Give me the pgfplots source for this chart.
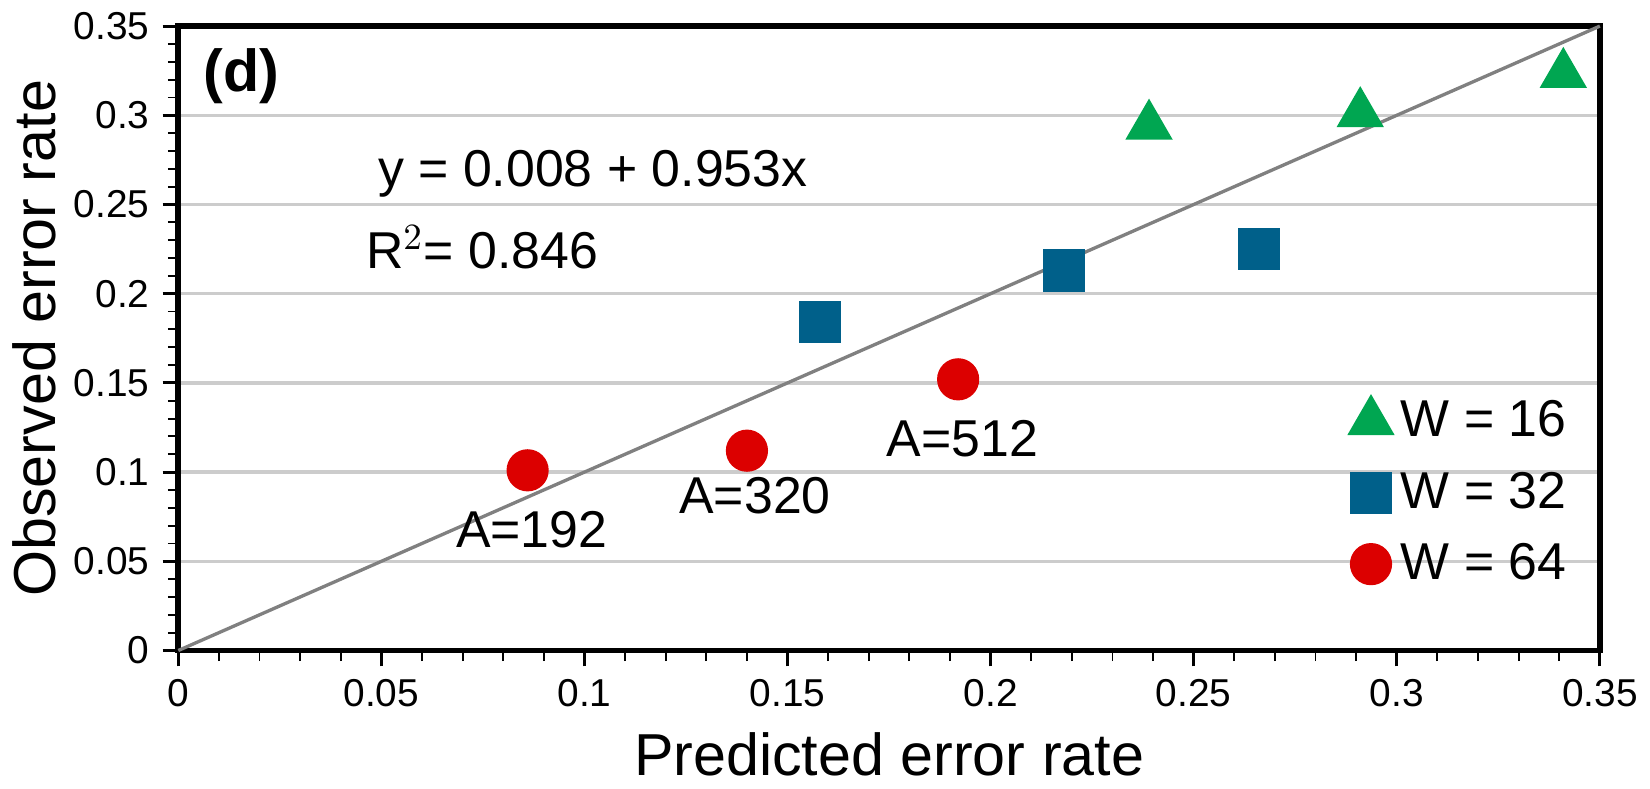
\documentclass[border=0pt]{standalone}
\usepackage{pgfplots}
\pgfplotsset{compat=1.18}
\usepackage{fontspec}
\setmainfont{Liberation Sans}
\definecolor{tg}{RGB}{0,166,81}
\definecolor{sb}{RGB}{0,96,138}
\definecolor{cr}{RGB}{220,0,0}
\begin{document}
\begin{tikzpicture}
\begin{axis}[
 scale only axis, width=13.5cm, height=5.93cm,
 xmin=0, xmax=0.35, ymin=0, ymax=0.35,
 xtick={0,0.05,...,0.35}, ytick={0,0.05,...,0.35},
 xticklabels={0,0.05,0.1,0.15,0.2,0.25,0.3,0.35},
 yticklabels={0,0.05,0.1,0.15,0.2,0.25,0.3,0.35},
 minor x tick num=4, minor y tick num=4,
 tick align=outside, tick pos=left,
 axis line style={line width=1.6pt},
 major tick style={black, line width=0.8pt},
 minor tick style={black, line width=0.5pt},
 ymajorgrids, grid style={gray!40, line width=0.9pt},
 ticklabel style={font=\fontsize{10.5}{12}\selectfont},
 /pgf/number format/assume math mode=true,
 xlabel={Predicted error rate}, ylabel={Observed error rate},
 label style={font=\fontsize{16}{18}\selectfont},
 ylabel style={yshift=-2pt},
 legend pos=south east, legend style={draw=none, fill=none, font=\fontsize{14}{16}\selectfont, row sep=4pt, at={(0.99,0.08)}},
 legend cell align=left,
 legend image post style={xshift=-4pt},
 clip=false,
]
\addplot[gray, line width=0.9pt, forget plot] coordinates {(0,0) (0.35,0.35)};
\addplot[only marks, mark=triangle*, mark size=7pt, color=tg] coordinates {(0.239,0.294) (0.291,0.301) (0.341,0.323)};
\addlegendentry{W = 16}
\addplot[only marks, mark=square*, mark size=5.5pt, color=sb] coordinates {(0.158,0.184) (0.218,0.213) (0.266,0.225)};
\addlegendentry{W = 32}
\addplot[only marks, mark=*, mark size=5.5pt, color=cr] coordinates {(0.086,0.101) (0.140,0.112) (0.192,0.152)};
\addlegendentry{W = 64}
\node[anchor=west, font=\bfseries\fontsize{16}{18}\selectfont] at (axis cs:0.003,0.322) {(d)};
\node[anchor=west, font=\fontsize{14}{16}\selectfont] at (axis cs:0.046,0.267) {y = 0.008 + 0.953x};
\node[anchor=west, font=\fontsize{14}{16}\selectfont] at (axis cs:0.043,0.226) {R$^{2}$= 0.846};
\node[font=\fontsize{14}{16}\selectfont] at (axis cs:0.087,0.068) {A=192};
\node[font=\fontsize{14}{16}\selectfont] at (axis cs:0.142,0.087) {A=320};
\node[font=\fontsize{14}{16}\selectfont] at (axis cs:0.193,0.119) {A=512};
\end{axis}
\end{tikzpicture}
\end{document}
